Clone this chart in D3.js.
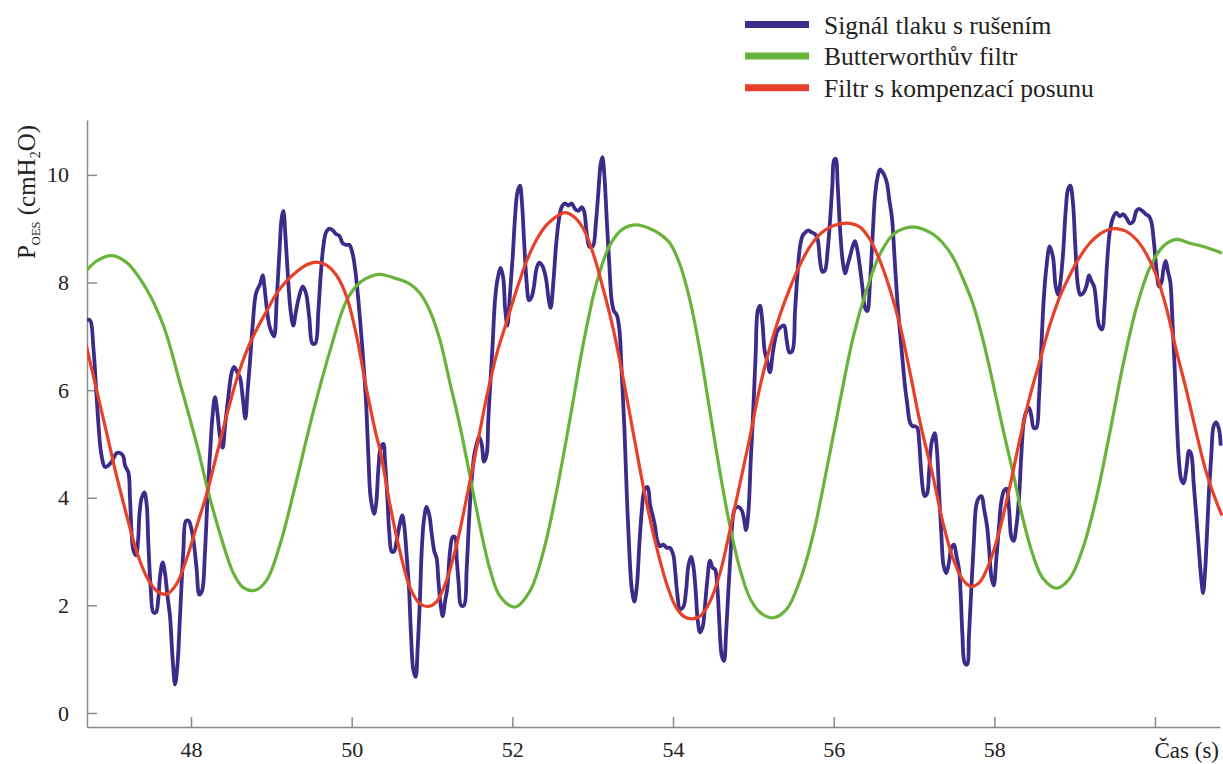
<!DOCTYPE html>
<html>
  <head>
    <meta charset="UTF-8" />
    <script src="https://d3js.org/d3.v7.min.js"></script>
    <style>
      body { margin: 0; background: #fff; }
      svg text { font-family: "Liberation Serif", "Times New Roman", "DejaVu Serif", serif; fill: #222; }
    </style>
  </head>
  <body>
    <svg width="1223" height="764"></svg>

    <script>
      // [time (s), pressure (cmH2O)]
      const noisySignal = [
        [46.693,7.30],[46.742,7.30],[46.784,6.80],[46.825,5.87],[46.867,5.00],[46.888,4.77],[46.929,4.57],[46.991,4.63],
        [47.033,4.73],[47.074,4.83],[47.116,4.83],[47.157,4.77],[47.178,4.60],[47.220,4.47],[47.240,4.00],[47.261,3.33],
        [47.282,3.03],[47.315,2.93],[47.344,3.27],[47.357,3.67],[47.386,4.00],[47.419,4.10],[47.448,3.87],[47.469,3.13],
        [47.498,2.33],[47.531,1.87],[47.564,1.87],[47.593,2.13],[47.614,2.53],[47.647,2.80],[47.676,2.60],[47.705,2.20],
        [47.738,1.80],[47.771,1.00],[47.801,0.53],[47.830,0.87],[47.863,1.80],[47.904,3.00],[47.937,3.57],[47.971,3.57],
        [48.008,3.40],[48.037,3.13],[48.070,2.67],[48.103,2.20],[48.137,2.27],[48.174,3.00],[48.207,4.07],[48.236,4.80],
        [48.265,5.47],[48.298,5.87],[48.327,5.60],[48.361,5.13],[48.394,4.93],[48.423,5.33],[48.464,5.87],[48.506,6.33],
        [48.535,6.43],[48.576,6.33],[48.610,6.23],[48.643,5.87],[48.676,5.47],[48.705,6.00],[48.734,6.53],[48.767,7.20],
        [48.809,7.80],[48.859,7.97],[48.892,8.13],[48.913,7.93],[48.942,7.53],[48.975,7.20],[49.004,7.07],[49.033,7.00],
        [49.066,7.67],[49.099,8.53],[49.128,9.20],[49.149,9.33],[49.178,8.80],[49.211,8.00],[49.240,7.47],[49.273,7.20],
        [49.307,7.47],[49.344,7.73],[49.390,7.93],[49.431,7.80],[49.473,7.33],[49.510,6.87],[49.547,6.87],[49.585,7.47],
        [49.614,8.13],[49.647,8.67],[49.680,8.93],[49.722,9.00],[49.763,8.97],[49.805,8.90],[49.846,8.87],[49.888,8.73],
        [49.929,8.70],[49.971,8.70],[50.012,8.53],[50.041,8.27],[50.062,8.00],[50.103,7.33],[50.145,6.53],[50.178,5.80],
        [50.207,4.80],[50.236,4.00],[50.278,3.70],[50.303,3.87],[50.332,4.53],[50.361,4.93],[50.394,5.00],[50.415,4.67],
        [50.444,4.00],[50.469,3.33],[50.498,3.00],[50.527,3.00],[50.560,3.20],[50.593,3.47],[50.630,3.67],[50.655,3.47],
        [50.684,2.93],[50.713,2.33],[50.738,1.47],[50.767,0.80],[50.796,0.67],[50.821,1.20],[50.850,2.13],[50.871,3.00],
        [50.900,3.60],[50.933,3.83],[50.967,3.67],[50.996,3.33],[51.029,3.00],[51.058,2.87],[51.079,2.47],[51.108,2.00],
        [51.133,1.80],[51.162,2.07],[51.191,2.33],[51.224,3.00],[51.257,3.27],[51.286,3.27],[51.307,2.87],[51.332,2.40],
        [51.361,2.00],[51.398,2.00],[51.431,2.67],[51.464,3.67],[51.493,4.33],[51.526,4.80],[51.556,5.00],[51.585,5.13],
        [51.618,5.00],[51.647,4.67],[51.680,4.80],[51.701,5.47],[51.721,6.00],[51.755,6.87],[51.784,7.67],[51.817,8.07],
        [51.855,8.27],[51.888,8.07],[51.909,7.53],[51.938,7.20],[51.971,7.80],[52.004,8.47],[52.033,9.20],[52.062,9.67],
        [52.095,9.80],[52.120,9.47],[52.145,8.80],[52.178,8.00],[52.207,7.67],[52.240,7.73],[52.269,7.93],[52.303,8.27],
        [52.336,8.37],[52.377,8.30],[52.419,8.07],[52.448,7.73],[52.477,7.53],[52.510,8.00],[52.543,8.67],[52.576,9.13],
        [52.614,9.40],[52.655,9.47],[52.697,9.43],[52.738,9.47],[52.780,9.37],[52.821,9.33],[52.863,9.40],[52.892,9.33],
        [52.925,8.93],[52.958,8.67],[53.000,8.67],[53.041,9.13],[53.070,9.67],[53.099,10.20],[53.120,10.33],[53.145,10.00],
        [53.174,9.20],[53.207,8.33],[53.236,7.67],[53.265,7.47],[53.299,7.40],[53.332,7.13],[53.361,6.33],[53.394,5.33],
        [53.423,4.13],[53.456,3.00],[53.485,2.33],[53.518,2.07],[53.548,2.33],[53.581,3.13],[53.610,3.73],[53.643,4.13],
        [53.685,4.20],[53.714,3.87],[53.747,3.67],[53.776,3.47],[53.805,3.20],[53.838,3.10],[53.880,3.13],[53.921,3.07],
        [53.962,3.07],[54.004,2.93],[54.025,2.67],[54.054,2.20],[54.087,1.93],[54.128,1.97],[54.162,2.27],[54.191,2.73],
        [54.224,2.90],[54.253,2.73],[54.282,2.27],[54.307,1.73],[54.336,1.50],[54.369,1.60],[54.398,2.00],[54.427,2.47],
        [54.460,2.83],[54.494,2.70],[54.523,2.67],[54.552,2.33],[54.577,1.67],[54.606,1.07],[54.635,0.97],[54.660,1.47],
        [54.689,2.27],[54.718,3.00],[54.743,3.60],[54.772,3.80],[54.813,3.83],[54.855,3.77],[54.884,3.60],[54.909,3.40],
        [54.938,3.73],[54.967,4.67],[55.000,5.67],[55.029,6.67],[55.054,7.47],[55.083,7.57],[55.112,7.27],[55.141,6.73],
        [55.174,6.53],[55.207,6.33],[55.240,6.67],[55.269,6.93],[55.299,7.10],[55.340,7.17],[55.382,7.20],[55.415,6.93],
        [55.448,6.70],[55.485,6.73],[55.519,7.47],[55.548,8.13],[55.581,8.67],[55.614,8.87],[55.647,8.93],[55.685,8.97],
        [55.726,8.93],[55.768,8.90],[55.801,8.80],[55.830,8.40],[55.859,8.20],[55.892,8.23],[55.925,8.60],[55.954,9.13],
        [55.983,9.80],[56.004,10.27],[56.025,10.30],[56.050,9.80],[56.079,9.00],[56.112,8.40],[56.145,8.17],[56.174,8.33],
        [56.211,8.53],[56.236,8.67],[56.265,8.77],[56.295,8.60],[56.328,8.27],[56.361,7.87],[56.390,7.53],[56.419,7.47],
        [56.452,8.00],[56.485,8.87],[56.514,9.60],[56.543,9.93],[56.576,10.10],[56.618,10.03],[56.660,9.87],[56.693,9.53],
        [56.726,9.20],[56.755,8.53],[56.792,7.67],[56.826,7.07],[56.859,6.53],[56.888,6.07],[56.917,5.73],[56.950,5.40],
        [56.983,5.33],[57.012,5.33],[57.041,5.30],[57.066,5.00],[57.087,4.53],[57.116,4.10],[57.133,4.03],[57.162,4.07],
        [57.187,4.47],[57.216,5.00],[57.257,5.20],[57.286,4.87],[57.311,4.13],[57.340,3.33],[57.369,2.73],[57.402,2.60],
        [57.436,2.80],[57.465,3.07],[57.498,3.13],[57.527,2.93],[57.560,2.67],[57.581,2.20],[57.602,1.47],[57.631,0.93],
        [57.660,0.90],[57.685,1.47],[57.714,2.33],[57.743,3.13],[57.776,3.87],[57.809,4.00],[57.842,4.03],[57.871,3.80],
        [57.909,3.47],[57.934,3.07],[57.963,2.53],[57.992,2.37],[58.025,2.87],[58.058,3.47],[58.087,3.93],[58.120,4.13],
        [58.149,4.17],[58.183,3.80],[58.212,3.27],[58.241,3.20],[58.274,3.47],[58.307,4.00],[58.336,4.80],[58.365,5.40],
        [58.398,5.60],[58.431,5.67],[58.460,5.53],[58.490,5.30],[58.523,5.30],[58.556,5.87],[58.585,6.80],[58.614,7.67],
        [58.647,8.27],[58.689,8.67],[58.730,8.47],[58.763,7.93],[58.792,7.77],[58.822,8.00],[58.855,8.53],[58.888,9.33],
        [58.917,9.73],[58.946,9.80],[58.979,9.47],[59.008,8.67],[59.041,7.93],[59.070,7.77],[59.104,7.80],[59.145,7.93],
        [59.178,8.13],[59.207,8.03],[59.241,7.93],[59.270,7.60],[59.303,7.20],[59.340,7.13],[59.373,7.60],[59.402,8.33],
        [59.436,8.93],[59.477,9.20],[59.519,9.30],[59.560,9.23],[59.602,9.27],[59.643,9.20],[59.685,9.10],[59.726,9.13],
        [59.768,9.33],[59.801,9.37],[59.843,9.33],[59.884,9.27],[59.925,9.23],[59.954,9.13],[59.983,8.80],[60.017,8.27],
        [60.050,7.93],[60.079,8.00],[60.108,8.27],[60.133,8.40],[60.162,8.20],[60.191,8.00],[60.216,7.33],[60.245,6.40],
        [60.274,5.33],[60.299,4.67],[60.328,4.33],[60.357,4.27],[60.390,4.53],[60.423,4.87],[60.452,4.80],[60.481,4.27],
        [60.514,3.67],[60.548,3.00],[60.577,2.47],[60.598,2.23],[60.622,2.60],[60.647,3.33],[60.672,4.13],[60.701,4.80],
        [60.730,5.33],[60.763,5.40],[60.797,5.27],[60.818,4.97]
      ];

      const butterworth = [
        [46.693,8.21],[46.825,8.40],[47.012,8.50],[47.199,8.37],[47.448,7.87],[47.656,7.20],[47.863,6.13],[48.070,5.00],
        [48.216,4.10],[48.361,3.33],[48.527,2.60],[48.651,2.33],[48.797,2.28],[48.942,2.47],[49.108,3.13],[49.315,4.33],
        [49.522,5.60],[49.730,6.73],[49.938,7.67],[50.103,8.00],[50.269,8.13],[50.352,8.15],[50.560,8.07],[50.726,7.97],
        [50.850,7.80],[50.975,7.47],[51.099,6.93],[51.224,6.13],[51.348,5.33],[51.473,4.40],[51.597,3.47],[51.721,2.67],
        [51.846,2.17],[52.033,1.97],[52.220,2.27],[52.386,3.00],[52.552,4.13],[52.718,5.47],[52.884,6.87],[53.050,8.00],
        [53.216,8.70],[53.382,9.00],[53.548,9.07],[53.714,9.00],[53.838,8.90],[53.962,8.73],[54.087,8.33],[54.211,7.67],
        [54.336,6.73],[54.460,5.60],[54.585,4.47],[54.709,3.47],[54.834,2.67],[54.958,2.13],[55.083,1.87],[55.249,1.77],
        [55.415,1.93],[55.581,2.47],[55.747,3.33],[55.913,4.53],[56.079,5.80],[56.245,7.00],[56.411,7.87],[56.577,8.53],
        [56.743,8.90],[56.867,9.00],[57.012,9.03],[57.236,8.90],[57.361,8.73],[57.485,8.47],[57.610,8.07],[57.734,7.60],
        [57.859,6.93],[57.983,6.13],[58.108,5.27],[58.232,4.47],[58.357,3.60],[58.481,2.93],[58.606,2.50],[58.772,2.32],
        [58.938,2.50],[59.104,3.07],[59.270,4.00],[59.436,5.20],[59.602,6.47],[59.768,7.53],[59.934,8.27],[60.100,8.67],
        [60.266,8.80],[60.432,8.73],[60.598,8.67],[60.834,8.55]
      ];

      const compensated = [
        [46.693,6.85],[46.825,6.00],[46.950,5.20],[47.074,4.40],[47.199,3.67],[47.323,3.00],[47.448,2.53],[47.572,2.27],
        [47.697,2.21],[47.821,2.40],[47.946,2.87],[48.070,3.47],[48.195,4.07],[48.319,4.80],[48.444,5.53],[48.568,6.20],
        [48.693,6.73],[48.817,7.13],[48.942,7.47],[49.066,7.80],[49.191,8.03],[49.315,8.20],[49.440,8.33],[49.564,8.38],
        [49.689,8.32],[49.813,8.13],[49.938,7.73],[50.062,7.00],[50.187,6.00],[50.311,5.13],[50.352,4.90],[50.477,3.87],
        [50.601,3.00],[50.726,2.33],[50.850,2.03],[50.954,1.98],[51.058,2.07],[51.182,2.47],[51.307,3.13],[51.431,4.00],
        [51.556,4.93],[51.680,5.87],[51.805,6.67],[51.929,7.27],[52.054,7.87],[52.178,8.40],[52.303,8.80],[52.427,9.07],
        [52.552,9.23],[52.655,9.30],[52.759,9.23],[52.884,9.00],[53.008,8.53],[53.133,7.87],[53.257,7.13],[53.382,6.20],
        [53.506,5.20],[53.631,4.20],[53.755,3.33],[53.880,2.60],[53.921,2.40],[54.025,2.00],[54.128,1.80],[54.232,1.75],
        [54.336,1.80],[54.460,2.07],[54.585,2.60],[54.709,3.40],[54.834,4.27],[54.958,5.13],[55.083,6.07],[55.207,6.80],
        [55.332,7.40],[55.456,7.90],[55.581,8.33],[55.705,8.67],[55.830,8.90],[55.954,9.03],[56.079,9.09],[56.203,9.10],
        [56.328,9.03],[56.452,8.80],[56.577,8.40],[56.701,7.87],[56.826,7.20],[56.950,6.33],[57.075,5.40],[57.236,4.40],
        [57.361,3.53],[57.485,2.87],[57.610,2.47],[57.714,2.35],[57.817,2.43],[57.942,2.80],[58.066,3.40],[58.191,4.20],
        [58.315,5.07],[58.440,5.87],[58.564,6.53],[58.689,7.20],[58.813,7.73],[58.938,8.13],[59.062,8.47],[59.187,8.73],
        [59.311,8.90],[59.436,8.99],[59.519,9.00],[59.643,8.95],[59.768,8.80],[59.892,8.53],[60.017,8.13],[60.141,7.53],
        [60.266,6.73],[60.390,6.00],[60.515,5.20],[60.639,4.47],[60.763,3.93],[60.834,3.67]
      ];

      const xTicks = [48, 50, 52, 54, 56, 58, 60];
      const yTicks = [0, 2, 4, 6, 8, 10];
      const seriesNames = ["Signál tlaku s rušením", "Butterworthův filtr", "Filtr s kompenzací posunu"];
      const seriesColors = ["#3d2b8a", "#68b43a", "#e8412a"];

      var svg = d3.select("svg");

      const xScale = d3.scaleLinear().domain([46.705, 60.809]).range([87, 1220]);
      const yScale = d3.scaleLinear().domain([-0.26, 11.02]).range([727, 120]);

      svg.append("clipPath").attr("id", "plot")
        .append("rect")
        .attr("x", 87).attr("y", 100)
        .attr("width", 1223 - 87).attr("height", 627);

      const xAxis = d3.axisBottom(xScale)
        .tickValues(xTicks)
        .tickSizeInner(-10)
        .tickSizeOuter(0)
        .tickPadding(14)
        .tickFormat(d => (d === 60 ? "" : d));
      const yAxis = d3.axisLeft(yScale)
        .tickValues(yTicks)
        .tickSizeInner(-10)
        .tickSizeOuter(0)
        .tickPadding(18);

      const gx = svg.append("g").attr("transform", "translate(0,727)").call(xAxis);
      const gy = svg.append("g").attr("transform", "translate(87,0)").call(yAxis);

      [gx, gy].forEach(g => {
        g.attr("font-family", null);
        g.select(".domain").attr("stroke", "#8a8a8a").attr("stroke-width", 1.5);
        g.selectAll(".tick line").attr("stroke", "#8a8a8a").attr("stroke-width", 1.5);
        g.selectAll(".tick text")
          .attr("font-size", 22)
          .attr("fill", "#222");
      });

      svg.append("text")
        .attr("x", 1219).attr("y", 758)
        .attr("text-anchor", "end")
        .attr("font-size", 23)
        .text("Čas (s)");

      const ylab = svg.append("text")
        .attr("transform", "translate(35,192) rotate(-90)")
        .attr("text-anchor", "middle")
        .attr("font-size", 25);
      ylab.append("tspan").text("P");
      ylab.append("tspan").attr("font-size", 12.5).attr("dy", 5).text("OES");
      ylab.append("tspan").attr("dy", -5).text(" (cmH");
      ylab.append("tspan").attr("font-size", 14).attr("dy", 5).text("2");
      ylab.append("tspan").attr("dy", -5).text("O)");

      const noisyLine = d3.line()
        .x(d => xScale(d[0]))
        .y(d => yScale(d[1]))
        .curve(d3.curveCatmullRom.alpha(0.5));
      const smoothLine = d3.line()
        .x(d => xScale(d[0]))
        .y(d => yScale(d[1]))
        .curve(d3.curveCatmullRom.alpha(0.5));

      const plot = svg.append("g").attr("clip-path", "url(#plot)");

      plot.append("path")
        .datum(noisySignal)
        .attr("d", noisyLine)
        .attr("fill", "none")
        .attr("stroke", seriesColors[0])
        .attr("stroke-width", 3.8)
        .attr("stroke-linejoin", "round");

      plot.append("path")
        .datum(butterworth)
        .attr("d", smoothLine)
        .attr("fill", "none")
        .attr("stroke", seriesColors[1])
        .attr("stroke-width", 3.2);

      plot.append("path")
        .datum(compensated)
        .attr("d", smoothLine)
        .attr("fill", "none")
        .attr("stroke", seriesColors[2])
        .attr("stroke-width", 3.2);

      // legend
      const legend = svg.append("g")
        .selectAll("g")
        .data(seriesNames)
        .enter()
        .append("g")
        .attr("transform", (d, i) => "translate(745," + (24.5 + i * 31.6) + ")");
      legend.append("line")
        .attr("x1", 0).attr("x2", 64)
        .attr("stroke", (d, i) => seriesColors[i])
        .attr("stroke-width", 7);
      legend.append("text")
        .attr("x", 79).attr("y", 9)
        .attr("font-size", 25.5)
        .text(d => d);
    </script>
  </body>
</html>
